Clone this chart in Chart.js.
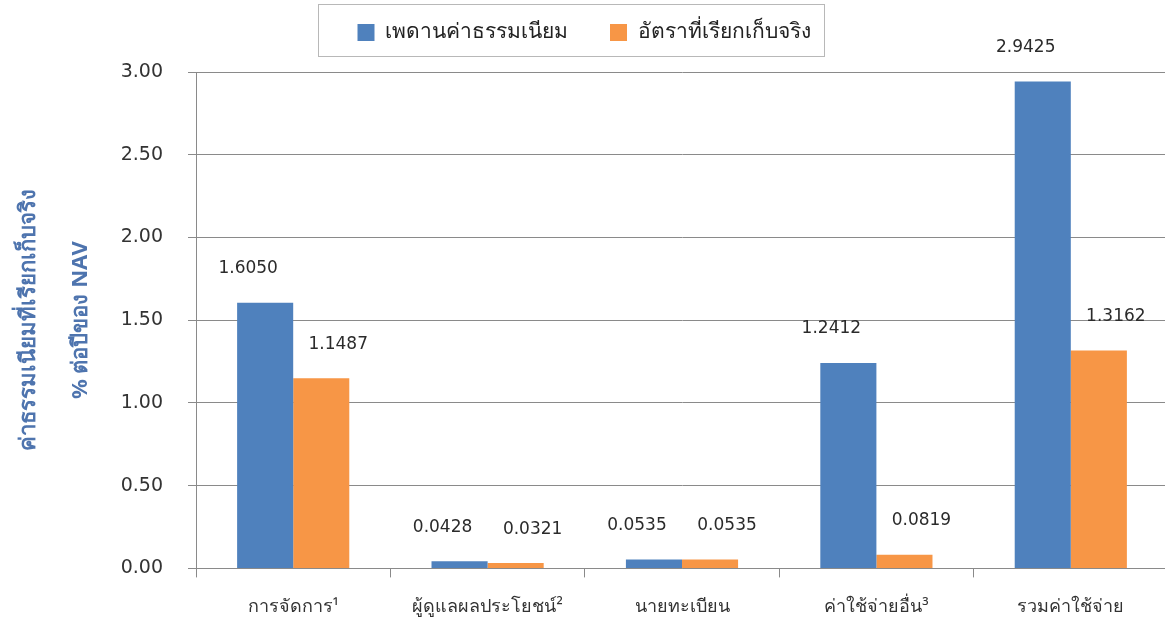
<!DOCTYPE html>
<html>
<head>
<meta charset="utf-8">
<script src="https://cdn.jsdelivr.net/npm/chart.js@4.4.1/dist/chart.umd.min.js"></script>
<style>
  html, body { margin: 0; padding: 0; background: #ffffff; overflow: hidden; }
  #wrap { position: absolute; left: 0; top: 0; width: 1168px; height: 623px; }
</style>
</head>
<body>
<div id="wrap"><canvas id="c"></canvas></div>
<script>
const categories = ['การจัดการ¹', 'ผู้ดูแลผลประโยชน์²', 'นายทะเบียน', 'ค่าใช้จ่ายอื่น³', 'รวมค่าใช้จ่าย'];
const seriesNames = ['เพดานค่าธรรมเนียม', 'อัตราที่เรียกเก็บจริง'];
const ceilingValues = [1.6050, 0.0428, 0.0535, 1.2412, 2.9425];
const actualValues = [1.1487, 0.0321, 0.0535, 0.0819, 1.3162];
const yTickMin = 0, yTickMax = 3, yTickStep = 0.5;
const yTitle = ['ค่าธรรมเนียมที่เรียกเก็บจริง', '% ต่อปีของ NAV'];

const FONT = "'DejaVu Sans', 'Liberation Sans', 'Noto Sans', sans-serif";
const THAI = "'Noto Sans', 'DejaVu Sans', 'Liberation Sans', sans-serif";

const valueLabels = {
  id: 'valueLabels',
  afterDatasetsDraw(chart) {
    const ctx = chart.ctx;
    ctx.save();
    ctx.font = "17px " + FONT;
    ctx.fillStyle = '#2b2b2b';
    ctx.textAlign = 'center';
    ctx.textBaseline = 'middle';
    chart.data.datasets.forEach((ds, di) => {
      const meta = chart.getDatasetMeta(di);
      const dx = di === 0 ? -17 : 17;
      meta.data.forEach((bar, i) => {
        ctx.fillText(ds.data[i].toFixed(4), bar.x + dx, bar.y - 34);
      });
    });
    ctx.restore();
  }
};

const legendFrame = {
  id: 'legendFrame',
  afterDraw(chart) {
    const lg = chart.legend;
    if (!lg || !lg.legendHitBoxes || !lg.legendHitBoxes.length) return;
    const hb = lg.legendHitBoxes;
    const l = Math.min(...hb.map(h => h.left));
    const r = Math.max(...hb.map(h => h.left + h.width));
    const t = hb[0].top;
    const ctx = chart.ctx;
    ctx.save();
    ctx.strokeStyle = '#b8b8b8';
    ctx.lineWidth = 1;
    ctx.strokeRect(Math.round(l - 40) + 0.5, Math.round(t - 18) + 0.5, Math.round(r - l + 53), 52);
    ctx.restore();
  }
};

new Chart(document.getElementById('c'), {
  type: 'bar',
  data: {
    labels: categories,
    datasets: [
      { label: seriesNames[0], data: ceilingValues, backgroundColor: '#4f81bd',
        categoryPercentage: 0.577, barPercentage: 1.0 },
      { label: seriesNames[1], data: actualValues, backgroundColor: '#f79646',
        categoryPercentage: 0.577, barPercentage: 1.0 }
    ]
  },
  options: {
    responsive: true,
    maintainAspectRatio: false,
    devicePixelRatio: 1,
    animation: false,
    layout: { padding: { top: -20, left: 0, right: 0, bottom: -14 } },
    plugins: {
      legend: {
        position: 'top',
        weight: 1000,
        labels: {
          boxWidth: 17, boxHeight: 17, padding: 42,
          color: '#222', font: { family: THAI, size: 21 }
        }
      },
      subtitle: {
        display: true, text: '', weight: 500, padding: 0,
        font: { size: 10, lineHeight: 1.9 }
      },
      tooltip: { enabled: false }
    },
    scales: {
      x: {
        grid: { drawOnChartArea: false, offset: true, tickLength: 9, color: '#8a8a8a' },
        border: { color: '#8a8a8a' },
        ticks: { color: '#333', font: { family: THAI, size: 18 }, padding: 19, maxRotation: 0, autoSkip: false }
      },
      y: {
        min: yTickMin, max: yTickMax,
        afterFit(scale) { scale.width = 196; },
        grid: { color: '#8a8a8a', tickLength: 8 },
        border: { color: '#8a8a8a' },
        ticks: {
          stepSize: yTickStep, color: '#333', padding: 25,
          font: { family: FONT, size: 19 },
          callback: v => Number(v).toFixed(2)
        },
        title: {
          display: true, text: yTitle, color: '#4e74ae',
          font: { family: THAI, size: 22, weight: 'bold', lineHeight: 2.4 },
          padding: { top: 2, bottom: 0 }
        }
      }
    }
  },
  plugins: [valueLabels, legendFrame]
});
</script>
</body>
</html>
